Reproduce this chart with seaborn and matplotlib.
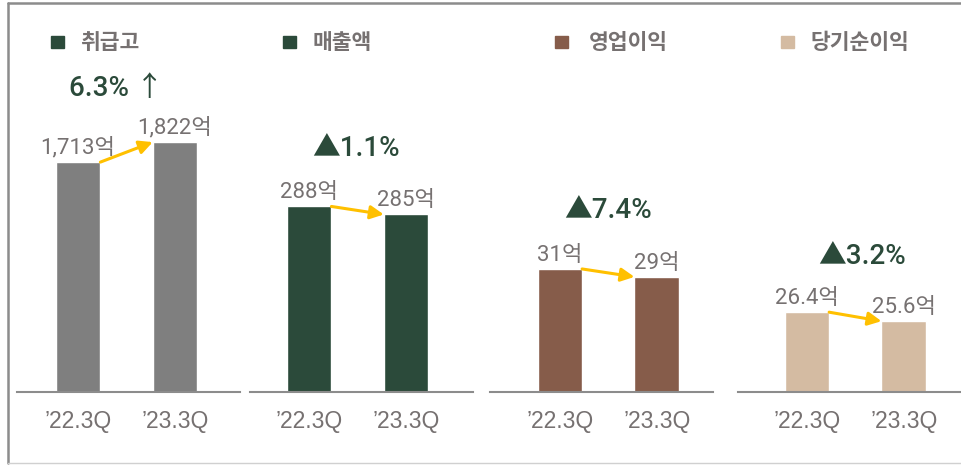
import numpy as np
import pandas as pd
import seaborn as sns
import matplotlib.pyplot as plt
from matplotlib.patches import Rectangle
from matplotlib.lines import Line2D

sns.set_style('white')
plt.rcParams['font.family'] = ['Roboto', 'Noto Sans CJK KR', 'DejaVu Sans']

# data
quarters = ['’22.3Q', '’23.3Q']
metrics = ['취급고', '매출액', '영업이익', '당기순이익']
values_22 = [1713, 288, 31, 26.4]
values_23 = [1822, 285, 29, 25.6]
changes = ['6.3% ↑', '▲1.1%', '▲7.4%', '▲3.2%']

bar_colors = ['#7F7F7F', '#2B4A3A', '#865C4A', '#D4BBA2']
key_colors = ['#2B4A3A', '#2B4A3A', '#865C4A', '#D4BBA2']
text_gray = '#767171'
green = '#2B4A3A'
gold = '#FFC000'

W, H = 962, 465
fig = plt.figure(figsize=(W / 100, H / 100), dpi=100)

def fx(px):
    return px / W

def fy(py):
    return 1 - py / H

# panel layout in pixels (left, right), shared baseline/top
panels = [(17, 240), (250, 473), (490, 713), (738, 961)]
base_y, top_y = 392, 30
ylims = [(460, 2433), (218.6, 354), (0, 91.2), (19.3, 51.5)]
xlims = [(-0.63, 1.67), (-0.61, 1.69), (-0.72, 1.58), (-0.71, 1.59)]
bar_w = 0.46

# header keys
key_x = [51, 283, 555, 781]
label_x = [80, 313, 589, 810]
# change annotation centers
chg_pos = [(116, 89), (356, 148), (608, 210), (862, 256)]

for i in range(4):
    l, r = panels[i]
    ax = fig.add_axes([fx(l), fy(base_y), fx(r - l), (base_y - top_y) / H])
    vals = [values_22[i], values_23[i]]
    df = pd.DataFrame({'q': quarters, 'v': vals})
    sns.barplot(data=df, x='q', y='v', color=bar_colors[i], saturation=1,
                width=bar_w, ax=ax)
    ax.set_ylim(*ylims[i])
    ax.set_xlim(*xlims[i])
    ax.set_xlabel('')
    ax.set_ylabel('')
    ax.set_yticks([])
    for s in ['top', 'left', 'right']:
        ax.spines[s].set_visible(False)
    ax.spines['bottom'].set_color('#8C8C8C')
    ax.spines['bottom'].set_linewidth(1.5)
    ax.tick_params(axis='x', length=0, pad=13, labelcolor=text_gray)
    for t in ax.get_xticklabels():
        t.set_fontfamily(['Liberation Sans', 'DejaVu Sans'])
        t.set_fontsize(16.5)
    ax.patch.set_alpha(0)

    for j, v in enumerate(vals):
        ax.annotate(f'{v:,}억', xy=(j, v), xytext=(0, 6), textcoords='offset points',
                    ha='center', va='baseline', fontsize=16, color=text_gray)

    ax.annotate('', xy=(1 - bar_w / 2, vals[1]), xytext=(bar_w / 2, vals[0]),
                arrowprops=dict(arrowstyle='-|>', color=gold, lw=2.2,
                                mutation_scale=20, shrinkA=0, shrinkB=0))

    # header key
    fig.patches.append(Rectangle((fx(key_x[i]), fy(48)), fx(13), 12 / H,
                                 transform=fig.transFigure, color=key_colors[i]))
    fig.text(fx(label_x[i]), fy(43), metrics[i], ha='left', va='center',
             fontsize=15.5, fontweight='bold', color=text_gray)

    cx, cy = chg_pos[i]
    fig.text(fx(cx), fy(cy), changes[i], ha='center', va='center',
             fontsize=20, fontweight=500, color=green)

# outer frame
fig.add_artist(Line2D([fx(8), 1], [fy(3), fy(3)], transform=fig.transFigure,
                      color='#8C8C8C', lw=1.8))
fig.add_artist(Line2D([fx(8), fx(8)], [fy(3), fy(463)], transform=fig.transFigure,
                      color='#8C8C8C', lw=1.8))
fig.add_artist(Line2D([fx(8), 1], [fy(463), fy(463)], transform=fig.transFigure,
                      color='#D0D0D0', lw=1))

fig.savefig('out.png', dpi=100)
